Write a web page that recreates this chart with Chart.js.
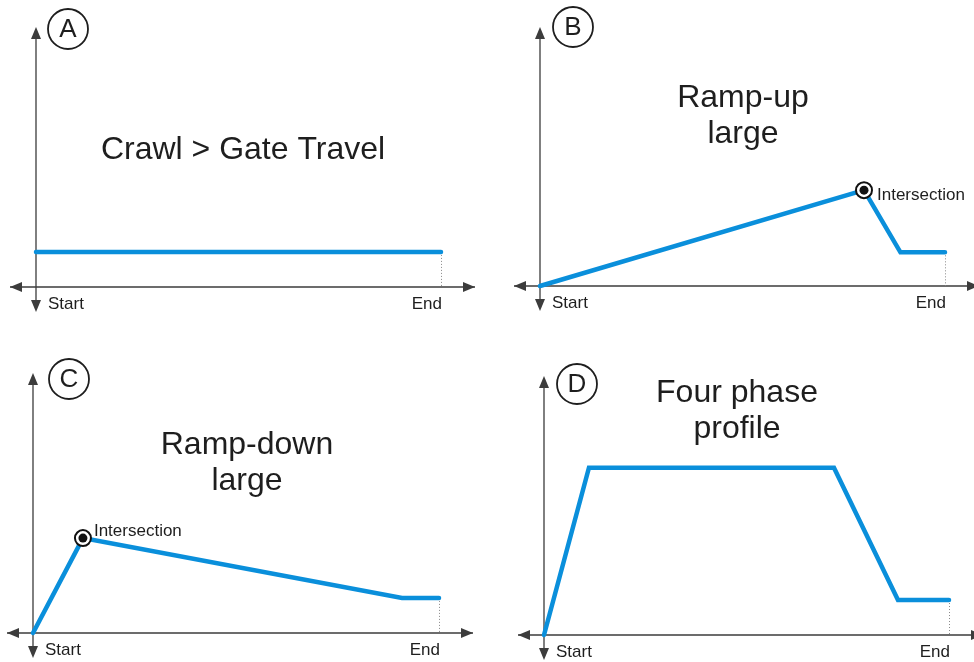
<!DOCTYPE html>
<html>
<head>
<meta charset="utf-8">
<script src="https://cdn.jsdelivr.net/npm/chart.js@4.4.1/dist/chart.umd.min.js"></script>
<style>
  html, body { margin: 0; padding: 0; background: #fff; }
  #wrap { position: relative; width: 974px; height: 662px; overflow: hidden; }
  #wrap canvas { position: absolute; }
</style>
</head>
<body>
<div id="wrap">
  <canvas id="chA" width="487" height="331" style="left:0;top:0"></canvas>
  <canvas id="chB" width="487" height="331" style="left:487px;top:0"></canvas>
  <canvas id="chC" width="487" height="331" style="left:0;top:331px"></canvas>
  <canvas id="chD" width="487" height="331" style="left:487px;top:331px"></canvas>
</div>
<script>
/* profile data: x = % of travel (Start 0 .. End 100), y = speed (% of axis height) */
const travelA = [0, 100];
const speedA  = [13.5, 13.5];

const travelB = [0, 80, 89, 100];
const speedB  = [0, 37, 13, 13];

const travelC = [0, 12.3, 90.9, 100];
const speedC  = [0, 36.5, 13.5, 13.5];

const travelD = [0, 11.1, 71.6, 87.4, 100];
const speedD  = [0, 64.6, 64.6, 13.5, 13.5];

const titleA = ['Crawl > Gate Travel'];
const titleB = ['Ramp-up', 'large'];
const titleC = ['Ramp-down', 'large'];
const titleD = ['Four phase', 'profile'];

const letters = ['A', 'B', 'C', 'D'];
const axisLabels = ['Start', 'End'];
const markerLabel = 'Intersection';

const BLUE = '#0a8fdb';
const AXIS = '#3c3c3c';
const INK = '#1e1e1e';
const FONT = '"Liberation Sans", Arial, sans-serif';

function arrow(ctx, x, y, dx, dy) {
  // filled arrow head, tip at (x, y), pointing along (dx, dy)
  const len = 12, half = 5;
  const px = -dy, py = dx;
  ctx.beginPath();
  ctx.moveTo(x, y);
  ctx.lineTo(x - dx * len + px * half, y - dy * len + py * half);
  ctx.lineTo(x - dx * len - px * half, y - dy * len - py * half);
  ctx.closePath();
  ctx.fill();
}

// axes with arrows, dotted End line, letters, titles, labels
const decor = {
  id: 'decor',
  beforeDatasetsDraw(chart, args, o) {
    const { ctx, chartArea: a } = chart;
    const xs = chart.scales.x, ys = chart.scales.y;
    const ox = xs.getPixelForValue(0), oy = ys.getPixelForValue(0);
    const ex = xs.getPixelForValue(100);
    const lastY = ys.getPixelForValue(o.endSpeed);
    ctx.save();
    ctx.strokeStyle = AXIS; ctx.fillStyle = AXIS; ctx.lineWidth = 1.3;
    ctx.beginPath();
    ctx.moveTo(ox - 26, oy); ctx.lineTo(ex + 34, oy);
    ctx.moveTo(ox, a.top + 6); ctx.lineTo(ox, oy + 20);
    ctx.stroke();
    arrow(ctx, ox - 26, oy, -1, 0);
    arrow(ctx, ex + 34, oy, 1, 0);
    arrow(ctx, ox, a.top, 0, -1);
    arrow(ctx, ox, oy + 25, 0, 1);
    // dotted drop from End
    ctx.strokeStyle = '#888'; ctx.lineWidth = 1;
    ctx.setLineDash([1, 2]);
    ctx.beginPath(); ctx.moveTo(ex + 0.5, lastY); ctx.lineTo(ex + 0.5, oy); ctx.stroke();
    ctx.setLineDash([]);
    ctx.restore();
  },
  afterDatasetsDraw(chart, args, o) {
    const { ctx } = chart;
    const xs = chart.scales.x, ys = chart.scales.y;
    const ox = xs.getPixelForValue(0), oy = ys.getPixelForValue(0);
    const ex = xs.getPixelForValue(100);
    ctx.save();
    ctx.fillStyle = INK;
    // Start / End
    ctx.font = '17px ' + FONT;
    ctx.textBaseline = 'alphabetic';
    ctx.textAlign = 'left';
    ctx.fillText(axisLabels[0], ox + 12, oy + 22);
    ctx.textAlign = 'right';
    ctx.fillText(axisLabels[1], ex + 1, oy + 22);
    // letter in circle
    ctx.strokeStyle = INK; ctx.lineWidth = 1.8;
    ctx.beginPath(); ctx.arc(o.letterX, o.letterY, 20, 0, Math.PI * 2); ctx.stroke();
    ctx.font = '26px ' + FONT;
    ctx.textAlign = 'center'; ctx.textBaseline = 'middle';
    ctx.fillText(o.letter, o.letterX, o.letterY + 1);
    // title lines
    ctx.font = '32px ' + FONT;
    ctx.textBaseline = 'alphabetic';
    o.title.forEach((t, i) => ctx.fillText(t, o.titleX, o.titleY + i * 36));
    // intersection label
    if (o.mark != null) {
      const mx = xs.getPixelForValue(o.markX), my = ys.getPixelForValue(o.markY);
      ctx.font = '17px ' + FONT;
      ctx.textAlign = 'left';
      ctx.fillText(markerLabel, mx + o.labelDx, my + o.labelDy);
    }
    ctx.restore();
  }
};

function makePanel(id, travel, speed, pad, opts) {
  const pts = travel.map((t, i) => ({ x: t, y: speed[i] }));
  const datasets = [{
    data: pts, showLine: true, borderColor: BLUE, borderWidth: 4.5, pointRadius: 0,
    borderJoinStyle: 'miter', borderCapStyle: 'round', tension: 0, order: 3
  }];
  if (opts.mark != null) {
    const m = [pts[opts.mark]];
    opts.markX = m[0].x; opts.markY = m[0].y;
    datasets.push({ data: m, showLine: false, pointRadius: 8, borderWidth: 2,
      borderColor: '#111', backgroundColor: '#fff', order: 2 });
    datasets.push({ data: m, showLine: false, pointRadius: 4.5, borderWidth: 0,
      backgroundColor: '#111', order: 1 });
  }
  opts.endSpeed = speed[speed.length - 1];
  return new Chart(document.getElementById(id), {
    type: 'scatter',
    data: { datasets },
    options: {
      responsive: false, animation: false, events: [],
      layout: { padding: pad },
      clip: false,
      plugins: { legend: { display: false }, tooltip: { enabled: false }, decor: opts },
      scales: {
        x: { type: 'linear', min: 0, max: 100, display: false },
        y: { type: 'linear', min: 0, max: 100, display: false }
      }
    },
    plugins: [decor]
  });
}

makePanel('chA', travelA, speedA, { left: 36, right: 46, top: 27, bottom: 44 },
  { letter: letters[0], letterX: 68, letterY: 29, title: titleA, titleX: 243, titleY: 159 });
makePanel('chB', travelB, speedB, { left: 53, right: 29, top: 27, bottom: 45 },
  { letter: letters[1], letterX: 86, letterY: 27, title: titleB, titleX: 256, titleY: 107,
    mark: 1, labelDx: 13, labelDy: 10 });
makePanel('chC', travelC, speedC, { left: 33, right: 48, top: 42, bottom: 29 },
  { letter: letters[2], letterX: 69, letterY: 48, title: titleC, titleX: 247, titleY: 123,
    mark: 1, labelDx: 11, labelDy: -2 });
makePanel('chD', travelD, speedD, { left: 57, right: 25, top: 45, bottom: 27 },
  { letter: letters[3], letterX: 90, letterY: 53, title: titleD, titleX: 250, titleY: 71 });
</script>
</body>
</html>
